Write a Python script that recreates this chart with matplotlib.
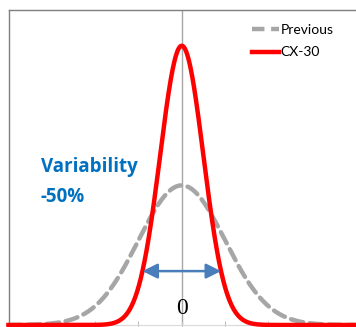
import numpy as np
import matplotlib
matplotlib.use("Agg")
import matplotlib.pyplot as plt
from matplotlib.lines import Line2D

# Distribution parameters (mean, standard deviation)
series_names = ["Previous", "CX-30"]
means = [0.0, 0.0]
sigmas = [1.0, 0.5]
series_colors = ["#A6A6A6", "#FF0000"]
tick_positions = [-3, -2, -1, 0, 1, 2, 3]
annotation_title = "Variability"
annotation_value = "-50%"
center_label = "0"

x = np.linspace(-4, 4, 801)


def normal_pdf(v, mu, s):
    return np.exp(-0.5 * ((v - mu) / s) ** 2) / (s * np.sqrt(2 * np.pi))


W, H = 356, 327
fig = plt.figure(figsize=(W / 100, H / 100), dpi=100)
ax = fig.add_axes([8.5 / W, 2 / H, 346.5 / W, 315 / H])
ax.set_xlim(-4, 4)
ax.set_ylim(0, 0.9)

# Centre reference line
ax.axvline(0, color="#A6A6A6", lw=1.0, zorder=1)

dash = (0, (2.8, 1.5))
prev = normal_pdf(x, means[0], sigmas[0])
new = normal_pdf(x, means[1], sigmas[1])
ax.plot(x, prev, color=series_colors[0], lw=3.2, ls=dash,
        dash_capstyle="round", zorder=2, clip_on=False)
ax.plot(x, new, color=series_colors[1], lw=3.2, zorder=3, clip_on=False)

# Double-headed arrow spanning the narrow curve at a fixed height
level = 0.154
peak = normal_pdf(0, means[1], sigmas[1])
half = sigmas[1] * np.sqrt(2 * np.log(peak / level))
ax.annotate("", xy=(means[1] + half, level), xytext=(means[1] - half, level),
            arrowprops=dict(arrowstyle="<|-|>,head_length=0.9,head_width=0.45",
                            color="#4A7EBB", lw=1.8, shrinkA=0, shrinkB=0),
            zorder=4)

ax.text(0, 0.046, center_label, ha="center", va="center", fontsize=17,
        family="Liberation Serif", color="black")

ax.text(-3.26, 0.437, annotation_title, ha="left", va="baseline", fontsize=13.5,
        family="Open Sans", fontweight="bold", color="#0070C0")
ax.text(-3.26, 0.351, annotation_value, ha="left", va="baseline", fontsize=13.5,
        family="Open Sans", fontweight="bold", color="#0070C0")

# Frame
for side in ["left", "top"]:
    ax.spines[side].set_color("#7F7F7F")
    ax.spines[side].set_linewidth(1.0)
ax.spines["right"].set_visible(False)
ax.spines["bottom"].set_color("#D9D9D9")
ax.set_yticks([])
ax.set_xticks(tick_positions)
ax.tick_params(axis="x", direction="inout", length=6, color="#BFBFBF",
               labelbottom=False)

handles = [Line2D([], [], color=series_colors[0], lw=3.2, ls=dash),
           Line2D([], [], color=series_colors[1], lw=3.2)]
ax.legend(handles, series_names, loc="upper left", frameon=False,
          bbox_to_anchor=(252 / W, 1 - 24 / H), bbox_transform=fig.transFigure,
          prop=dict(family="Lato", size=10), handlelength=1.95,
          handletextpad=0.1, labelspacing=0.75, borderpad=0, borderaxespad=0)

fig.savefig("out.png", dpi=100)
